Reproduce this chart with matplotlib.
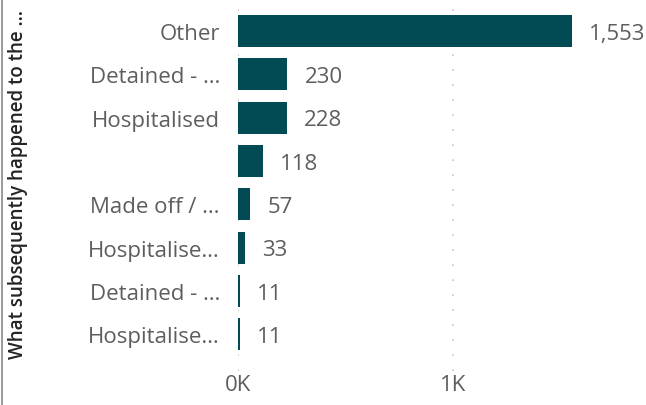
import matplotlib.pyplot as plt
from matplotlib.lines import Line2D

# Chart data
categories = ["Other", "Detained - …", "Hospitalised", "", "Made off / …",
              "Hospitalise…", "Detained - …", "Hospitalise…"]
counts = [1553, 230, 228, 118, 57, 33, 11, 11]
value_labels = ["1,553", "230", "228", "118", "57", "33", "11", "11"]
x_ticks = [0, 1000]
x_tick_labels = ["0K", "1K"]

bar_color = "#024A54"
text_color = "#605E5C"

plt.rcParams["font.family"] = ["Open Sans", "DejaVu Sans"]

fig = plt.figure(figsize=(6.46, 4.06), dpi=100)
ax = fig.add_axes([238 / 646, 1 - 372 / 406, (630 - 238) / 646, 364 / 406])

ax.barh(range(len(categories)), counts, height=0.74, color=bar_color, zorder=3)

px_per_unit = 215 / 1000
for i, (v, lab) in enumerate(zip(counts, value_labels)):
    ax.text(v + 17 / px_per_unit, i + 0.05, lab, va="center", ha="left",
            fontsize=16, color=text_color, clip_on=False)

ax.set_xlim(0, (630 - 238) / px_per_unit)
ax.set_ylim(7.85, -0.554)
ax.set_yticks(range(len(categories)))
ax.set_yticklabels(categories)
ax.set_xticks(x_ticks)
ax.set_xticklabels(x_tick_labels)
ax.tick_params(axis="both", length=0, labelsize=16, labelcolor=text_color)
ax.tick_params(axis="y", pad=13)
ax.tick_params(axis="x", pad=2)

for s in ax.spines.values():
    s.set_visible(False)

ax.xaxis.grid(True, color="#C8C6C4", linestyle=(0, (1, 8)), linewidth=1.2, zorder=0)
ax.set_axisbelow(True)

fig.text(18 / 646, 1 - 185 / 406, "What subsequently happened to the …",
         rotation=90, ha="center", va="center", fontsize=13.5,
         fontweight="semibold", color="#252423")

fig.add_artist(Line2D([2 / 646, 2 / 646], [0, 1], color="#8A8886", linewidth=1.2,
                      transform=fig.transFigure))

fig.savefig("out.png", dpi=100)
